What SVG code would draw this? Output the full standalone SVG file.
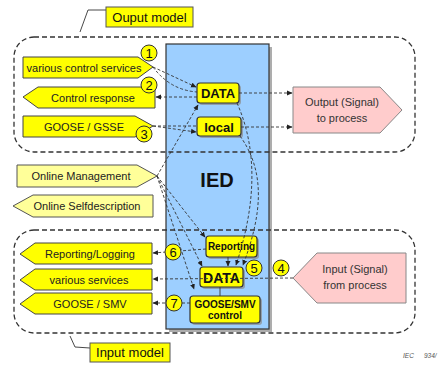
<svg xmlns="http://www.w3.org/2000/svg" width="441" height="369" viewBox="0 0 441 369">
  <style>
    text { font-family: "Liberation Sans", Arial, sans-serif; fill: #222; }
    .lbl { font-size: 11px; text-anchor: middle; }
    .box { fill: #FFFF00; stroke: #444; stroke-width: 1; }
    .pale { fill: #FFFF99; stroke: #555; stroke-width: 1; }
    .sig { fill: #FFCCCC; stroke: #888; stroke-width: 1; }
    .sigt { font-size: 11px; text-anchor: middle; fill: #333; }
    .shadow { fill: #8a8a8a; opacity: 0.7; }
    .blk { fill: #FFFF00; stroke: #333; stroke-width: 1.2; }
    .bt { font-weight: bold; text-anchor: middle; fill: #111; }
    .grp { fill: none; stroke: #333; stroke-width: 1.3; stroke-dasharray: 5 3; }
    .con { fill: none; stroke: #333; stroke-width: 0.9; stroke-dasharray: 3 2; }
    .solid { fill: none; stroke: #333; stroke-width: 0.9; }
    .num { fill: #FFFF00; stroke: #333; stroke-width: 1; }
    .numt { font-size: 13px; text-anchor: middle; fill: #111; }
    .cap { fill: #FFFF00; stroke: #555; stroke-width: 1; }
    .capt { font-size: 13px; text-anchor: middle; fill: #111; }
    .ref { font-size: 6.5px; font-style: italic; fill: #555; }
  </style>
  <defs>
    <marker id="ah" markerWidth="6" markerHeight="6" refX="5" refY="3" orient="auto" markerUnits="userSpaceOnUse">
      <path d="M0,0.5 L5.5,3 L0,5.5 Z" fill="#222"/>
    </marker>
  </defs>

  <!-- IED container -->
  <g id="ied">
    <rect x="169" y="47" width="103" height="285" class="shadow"/>
    <rect x="166" y="44" width="103" height="285" fill="#9DCFFF" stroke="#333" stroke-width="1.2"/>
    <text x="217" y="187" class="bt" font-size="20">IED</text>
  </g>

  <!-- model boundaries -->
  <g id="output-model">
    <rect x="14" y="37" width="401" height="115" rx="20" class="grp"/>
    <path d="M106,10 L88,10 L80,32" class="solid" stroke-width="1"/>
    <rect x="106" y="7" width="87" height="20" class="cap"/>
    <text x="149.5" y="22" class="capt">Ouput model</text>
  </g>
  <g id="input-model">
    <rect x="14" y="230" width="401" height="103" rx="20" class="grp"/>
    <path d="M90,348 L75,347 L70,336" class="solid" stroke-width="1"/>
    <rect x="90" y="343" width="80" height="19" class="cap"/>
    <text x="130" y="357" class="capt">Input model</text>
  </g>

  <!-- service interfaces -->
  <g id="various-control-services">
    <polygon points="23,57 138,57 153,67 138,78 23,78" class="box"/>
    <text x="84" y="71.5" class="lbl">various control services</text>
  </g>
  <g id="control-response">
    <polygon points="23,97 38,87 155,87 155,108 38,108" class="box"/>
    <text x="93" y="101.5" class="lbl">Control response</text>
  </g>
  <g id="goose-gsse">
    <polygon points="23,116 135,116 153,126 135,137 23,137" class="box"/>
    <text x="84" y="130.5" class="lbl">GOOSE / GSSE</text>
  </g>
  <g id="online-management">
    <polygon points="17,165 137,165 157,176 137,187 17,187" class="pale"/>
    <text x="81" y="180" class="lbl">Online Management</text>
  </g>
  <g id="online-selfdescription">
    <polygon points="13,206 33,195 153,195 153,217 33,217" class="pale"/>
    <text x="87" y="210" class="lbl">Online Selfdescription</text>
  </g>
  <g id="reporting-logging">
    <polygon points="20,254 35,243 152,243 152,264 35,264" class="box"/>
    <text x="90" y="258" class="lbl">Reporting/Logging</text>
  </g>
  <g id="various-services">
    <polygon points="20,280 35,269 152,269 152,290 35,290" class="box"/>
    <text x="89" y="284" class="lbl">various services</text>
  </g>
  <g id="goose-smv">
    <polygon points="20,304 35,293 152,293 152,314 35,314" class="box"/>
    <text x="90" y="308" class="lbl">GOOSE / SMV</text>
  </g>

  <!-- process signals -->
  <g id="output-signal">
    <polygon points="293,87 380,87 402,110 380,133 293,133" class="sig"/>
    <text x="342" y="106" class="sigt">Output (Signal)</text>
    <text x="342" y="122" class="sigt">to process</text>
  </g>
  <g id="input-signal">
    <polygon points="293,278 317,253 406,253 406,303 317,303" class="sig"/>
    <text x="355" y="273" class="sigt">Input (Signal)</text>
    <text x="355" y="289" class="sigt">from process</text>
  </g>

  <!-- IED internal blocks -->
  <g id="data-out">
    <rect x="199" y="85" width="42" height="20" rx="3" class="shadow"/>
    <rect x="197" y="83" width="42" height="20" rx="3" class="blk"/>
    <text x="218" y="98" class="bt" font-size="13">DATA</text>
  </g>
  <g id="local">
    <rect x="199" y="119" width="44" height="19" rx="3" class="shadow"/>
    <rect x="197" y="117" width="44" height="19" rx="3" class="blk"/>
    <text x="219" y="131.5" class="bt" font-size="13">local</text>
  </g>
  <g id="reporting">
    <rect x="208" y="238" width="51" height="21" rx="3" class="shadow"/>
    <rect x="206" y="236" width="51" height="21" rx="3" class="blk"/>
    <text x="231.5" y="250" class="bt" font-size="10">Reporting</text>
  </g>
  <g id="data-in">
    <rect x="202" y="269" width="43" height="20" rx="3" class="shadow"/>
    <rect x="200" y="267" width="43" height="20" rx="3" class="blk"/>
    <text x="221.5" y="282.5" class="bt" font-size="14">DATA</text>
  </g>
  <g id="goose-smv-control">
    <rect x="192" y="298" width="70" height="27" rx="3" class="shadow"/>
    <rect x="190" y="296" width="70" height="27" rx="3" class="blk"/>
    <text x="225" y="307.5" class="bt" font-size="10">GOOSE/SMV</text>
    <text x="225" y="319" class="bt" font-size="10">control</text>
  </g>

  <!-- connectors -->
  <g id="connectors">
    <path d="M153,67 L196,87" class="con" marker-end="url(#ah)"/>
    <path d="M153,67 Q170,90 197,92" class="con"/>
    <path d="M197,97 L156,97" class="con" marker-end="url(#ah)"/>
    <path d="M239,93 L292,93" class="con" marker-end="url(#ah)"/>
    <path d="M241,127 L292,127" class="con" marker-end="url(#ah)"/>
    <path d="M153,126 L197,126" class="con"/>
    <path d="M153,126 L196,132" class="con" marker-end="url(#ah)"/>
    <path d="M157,176 L198,105" class="con" marker-end="url(#ah)"/>
    <path d="M157,176 L205,237" class="con" marker-end="url(#ah)"/>
    <path d="M157,176 L202,266" class="con" marker-end="url(#ah)"/>
    <path d="M157,176 L194,289" class="con" marker-end="url(#ah)"/>
    <path d="M237,103 C258,150 256,205 236,265" class="con" marker-end="url(#ah)"/>
    <path d="M240,136 C266,172 262,215 243,265" class="con" marker-end="url(#ah)"/>
    <path d="M228,257 L228,266" class="solid" marker-end="url(#ah)"/>
    <path d="M220,287 L220,296" class="solid"/>
    <path d="M206,249 L153,253" class="con" marker-end="url(#ah)"/>
    <path d="M293,278 L153,279" class="con" marker-end="url(#ah)"/>
    <path d="M190,303 L153,303" class="con" marker-end="url(#ah)"/>
  </g>

  <!-- numbered callouts -->
  <g id="callouts">
    <circle cx="149" cy="53" r="8" class="num"/><text x="149" y="57.5" class="numt">1</text>
    <circle cx="149" cy="85" r="8" class="num"/><text x="149" y="89.5" class="numt">2</text>
    <circle cx="144" cy="134" r="8" class="num"/><text x="144" y="138.5" class="numt">3</text>
    <circle cx="281" cy="268" r="8" class="num"/><text x="281" y="272.5" class="numt">4</text>
    <circle cx="254" cy="268" r="8" class="num"/><text x="254" y="272.5" class="numt">5</text>
    <circle cx="173" cy="252" r="8" class="num"/><text x="173" y="256.5" class="numt">6</text>
    <circle cx="174" cy="303" r="8" class="num"/><text x="174" y="307.5" class="numt">7</text>
  </g>

  <text x="403" y="358" class="ref">IEC</text>
  <text x="424" y="358" class="ref">934/</text>
</svg>
